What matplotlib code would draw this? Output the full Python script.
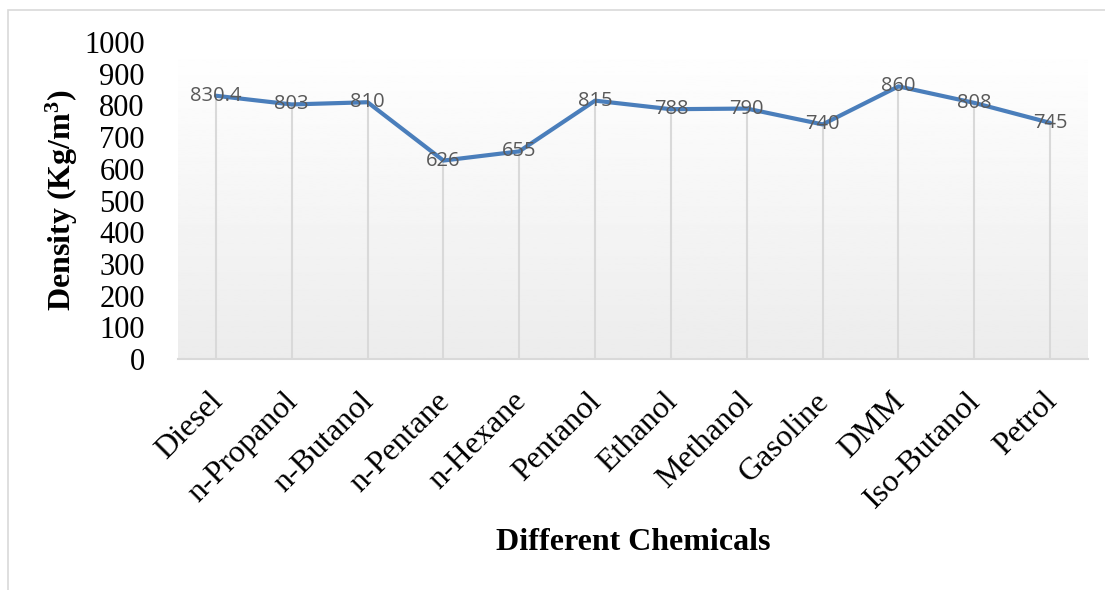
# density of different chemicals, line chart with drop lines

import numpy as np
from matplotlib import pyplot as plt
from matplotlib.patches import Rectangle
from matplotlib.transforms import ScaledTranslation

chemicals = ["Diesel", "n-Propanol", "n-Butanol", "n-Pentane", "n-Hexane",
             "Pentanol", "Ethanol", "Methanol", "Gasoline", "DMM",
             "Iso-Butanol", "Petrol"]
density = [830.4, 803, 810, 626, 655, 815, 788, 790, 740, 860, 808, 745]
labels = ["830.4", "803", "810", "626", "655", "815", "788", "790", "740",
          "860", "808", "745"]
yticks = np.arange(0, 1001, 100)

plt.rcParams["mathtext.fontset"] = "custom"
plt.rcParams["mathtext.rm"] = "Liberation Serif:bold"
plt.rcParams["mathtext.it"] = "Liberation Serif:bold"

W, H = 1105, 590
fig = plt.figure(figsize=(W / 100, H / 100), dpi=100)
ax = fig.add_axes([178 / W, 1 - 359 / H, (1088 - 178) / W, (359 - 42) / H])

serif = "Liberation Serif"
x = np.arange(len(chemicals))

# gradient plot area (white at top, light gray at bottom)
grad = np.linspace(1.0, 0.925, 256).reshape(-1, 1)
ax.imshow(grad, cmap="gray", vmin=0, vmax=1, aspect="auto",
          extent=[-0.5, len(chemicals) - 0.5, 0, 1000], zorder=0)

# drop lines
ax.vlines(x, 0, density, color="#d9d9d9", lw=1.5, zorder=1)
ax.plot(x, density, color="#4a7ebb", lw=3, solid_capstyle="round", zorder=2)

for xi, yi, lab in zip(x, density, labels):
    ax.text(xi, yi, lab, ha="center", va="center", fontsize=14.5,
            color="#595959", family="Open Sans", zorder=3)

ax.set_xlim(-0.5, len(chemicals) - 0.5)
ax.set_ylim(0, 1000)
ax.set_yticks(yticks)
ax.set_yticklabels([str(v) for v in yticks], family=serif, fontsize=22)
ax.set_xticks(x)
ax.set_xticklabels(chemicals, rotation=45, ha="right", rotation_mode="anchor",
                   family=serif, fontsize=23)
ax.tick_params(length=0)
ax.tick_params(axis="x", pad=20)
ax.tick_params(axis="y", pad=24)

shift = ScaledTranslation(-8 / 100, 0, fig.dpi_scale_trans)
for lab in ax.get_xticklabels():
    lab.set_transform(lab.get_transform() + shift)

for s in ["top", "right", "left"]:
    ax.spines[s].set_visible(False)
ax.spines["bottom"].set_color("#d9d9d9")
ax.spines["bottom"].set_linewidth(1.5)

fig.text(62 / W, 1 - 200 / H, "Density (Kg/m$^3$)", rotation=90, ha="center",
         va="center", family=serif, fontsize=23, fontweight="bold")
fig.text(633 / W, 1 - 543 / H, "Different Chemicals", ha="center", va="center",
         family=serif, fontsize=23, fontweight="bold")

# chart border
fig.patches.append(Rectangle((8 / W, -0.1), 1.2, 1 - 10 / H + 0.1,
                             transform=fig.transFigure, fill=False,
                             edgecolor="#d9d9d9", lw=1.2))

plt.savefig("out.png", dpi=100)
